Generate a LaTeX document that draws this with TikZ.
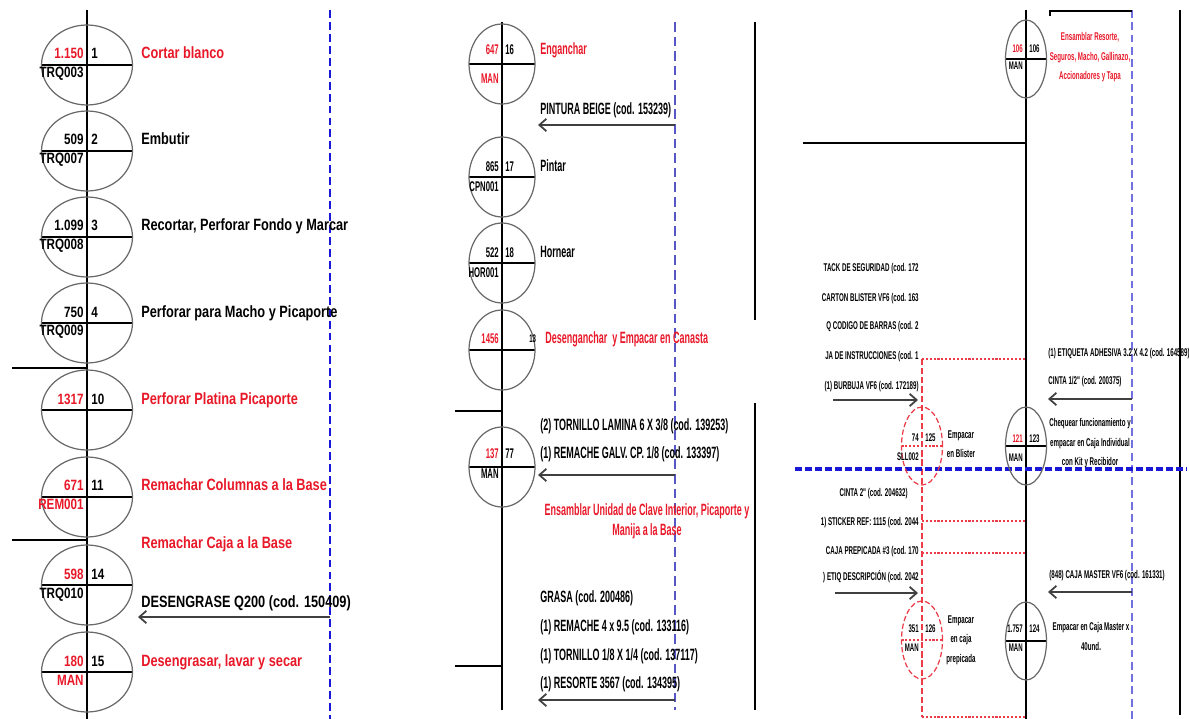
\documentclass[tikz,border=0pt]{standalone}
\usepackage{fontspec}
\usepackage{tikz}
\usetikzlibrary{shapes.geometric, arrows.meta, positioning}
\newfontfamily\narrowA[FakeStretch=0.78]{Liberation Sans}
\newfontfamily\narrowB[FakeStretch=0.55]{Liberation Sans}
\definecolor{opred}{RGB}{232,24,40}
\definecolor{lineblue}{RGB}{24,24,214}
\definecolor{linepurple}{RGB}{86,86,196}
\definecolor{linelilac}{RGB}{112,112,222}
\definecolor{ringgray}{RGB}{105,105,105}
\definecolor{dashred}{RGB}{236,60,72}

\begin{document}
\begin{tikzpicture}[
        x=0.02cm, y=-0.02cm,
        cut/.style = {draw=black, line width=1pt},
        opbig/.style = {draw=ringgray, ellipse, inner sep=0pt, outer sep=0pt, minimum width=1.82cm, minimum height=1.6cm, line width=0.7pt, path picture={\draw[cut] (path picture bounding box.west) -- (path picture bounding box.east);}},
        opmid/.style = {opbig, minimum width=1.32cm},
        opsmall/.style = {opbig, minimum width=0.82cm, minimum height=1.56cm},
        opdash/.style = {opsmall, draw=dashred, dash pattern=on 3pt off 1.5pt, path picture={\draw[dashred, line width=1pt, dash pattern=on 1.2pt off 1pt] (path picture bounding box.west) -- (path picture bounding box.east);}},
        spine/.style = {draw=black, line width=0.6pt},
        bar/.style = {draw=black, line width=0.9pt},
        feed/.style = {draw=black!75, line width=1pt, -{Straight Barb[length=4pt, width=7pt]}},
        blueA/.style = {draw=lineblue, line width=1.2pt, dash pattern=on 4.5pt off 2.3pt},
        blueB/.style = {draw=linepurple, line width=0.9pt, dash pattern=on 5.5pt off 2.8pt},
        blueC/.style = {draw=linelilac, line width=0.9pt, dash pattern=on 4.5pt off 2.5pt},
        blueH/.style = {draw=lineblue, line width=1.8pt, dash pattern=on 4pt off 1.7pt},
        reddot/.style = {draw=dashred, line width=1.1pt, dash pattern=on 1.2pt off 1pt},
        redvert/.style = {draw=dashred, line width=0.6pt, dash pattern=on 3.5pt off 1.7pt},
        labA/.style = {inner sep=0pt, font=\narrowA\bfseries\fontsize{9.3}{11}\selectfont},
        numA/.style = {inner sep=0pt, font=\narrowA\bfseries\fontsize{8.5}{10}\selectfont},
        labB/.style = {inner sep=0pt, font=\narrowB\bfseries\fontsize{9.3}{11.4}\selectfont},
        numB/.style = {inner sep=0pt, font=\narrowB\bfseries\fontsize{8}{10}\selectfont},
        labC/.style = {inner sep=0pt, font=\narrowB\bfseries\fontsize{6.4}{11.2}\selectfont},
        numC/.style = {inner sep=0pt, font=\narrowB\bfseries\fontsize{6.3}{7.5}\selectfont},
        hot/.style = {text=opred},
        lft/.style = {anchor=base east},
        rgt/.style = {anchor=base west}
    ]
        \useasboundingbox (0,0) rectangle (1189,719);

        % Column 1 lines
        \coordinate (sp1a) at (87,10);
        \coordinate (sp1b) at (87,719);
        \coordinate (bl1a) at (330,10);
        \coordinate (bl1b) at (330,719);
        \draw [spine] (sp1a) -- (sp1b);
        \draw [blueA] (bl1a) -- (bl1b);
        \coordinate (h1a) at (12,368);
        \coordinate (h1b) at (12,540);
        \draw [bar] (h1a) -- (sp1a |- h1a);
        \draw [bar] (h1b) -- (sp1a |- h1b);

        % Column 1 operations
        \node (op1)  [opbig] at (87,65)  {};
        \node (op2)  [opbig] at (87,151) {};
        \node (op3)  [opbig] at (87,237) {};
        \node (op4)  [opbig] at (87,323) {};
        \node (op10) [opbig] at (87,410) {};
        \node (op11) [opbig] at (87,497) {};
        \node (op14) [opbig] at (87,585) {};
        \node (op15) [opbig] at (87,672) {};

        \node (q1)  [numA, hot, lft] at (84,59)  {1.150};
        \node (n1)  [numA, rgt]      at (91,59)  {1};
        \node (m1)  [numA, lft]      at (84,78)  {TRQ003};
        \node (q2)  [numA, lft]      at (84,145) {509};
        \node (n2)  [numA, rgt]      at (91,145) {2};
        \node (m2)  [numA, lft]      at (84,164) {TRQ007};
        \node (q3)  [numA, lft]      at (84,231) {1.099};
        \node (n3)  [numA, rgt]      at (91,231) {3};
        \node (m3)  [numA, lft]      at (84,250) {TRQ008};
        \node (q4)  [numA, lft]      at (84,317) {750};
        \node (n4)  [numA, rgt]      at (91,317) {4};
        \node (m4)  [numA, lft]      at (84,336) {TRQ009};
        \node (q10) [numA, hot, lft] at (84,404) {1317};
        \node (n10) [numA, rgt]      at (91,404) {10};
        \node (q11) [numA, hot, lft] at (84,490) {671};
        \node (n11) [numA, rgt]      at (91,490) {11};
        \node (m11) [numA, hot, lft] at (84,509) {REM001};
        \node (q14) [numA, hot, lft] at (84,579) {598};
        \node (n14) [numA, rgt]      at (91,579) {14};
        \node (m14) [numA, lft]      at (84,598) {TRQ010};
        \node (q15) [numA, hot, lft] at (84,666) {180};
        \node (n15) [numA, rgt]      at (91,666) {15};
        \node (m15) [numA, hot, lft] at (84,685) {MAN};

        \node (t1)  [labA, hot, rgt] at (141,59)  {Cortar blanco};
        \node (t2)  [labA, rgt]      at (141,145) {Embutir};
        \node (t3)  [labA, rgt]      at (141,231) {Recortar, Perforar Fondo y Marcar};
        \node (t4)  [labA, rgt]      at (141,317) {Perforar para Macho y Picaporte};
        \node (t10) [labA, hot, rgt] at (141,404) {Perforar Platina Picaporte};
        \node (t11) [labA, hot, rgt] at (141,490) {Remachar Columnas a la Base};
        \node (t12) [labA, hot, rgt] at (141,548) {Remachar Caja a la Base};
        \node (mat1) [labA, rgt]     at (141,607) {DESENGRASE Q200 (cod. 150409)};
        \node (t15) [labA, hot, rgt] at (141,666) {Desengrasar, lavar y secar};
        \draw [feed] (bl1a |- 0,617) -- (138,617);

        % Column 2 lines
        \coordinate (sp2a) at (502,22);
        \coordinate (sp2b) at (502,710);
        \coordinate (bl2a) at (675,22);
        \coordinate (bl2b) at (675,710);
        \draw [spine] (sp2a) -- (sp2b);
        \draw [blueB] (bl2a) -- (bl2b);
        \draw [bar] (755,22) -- (755,320);
        \draw [bar] (755,403) -- (755,710);
        \coordinate (h2a) at (455,411);
        \coordinate (h2b) at (455,666);
        \draw [bar] (h2a) -- (sp2a |- h2a);
        \draw [bar] (h2b) -- (sp2a |- h2b);

        % Column 2 operations
        \node (op16) [opmid] at (502,64)  {};
        \node (op17) [opmid] at (502,177) {};
        \node (op18) [opmid] at (502,263) {};
        \node (op13) [opmid] at (502,350) {};
        \node (op77) [opmid] at (502,467) {};

        \node (q16) [numB, hot, lft] at (499,55)  {647};
        \node (n16) [numB, rgt]      at (505,55)  {16};
        \node (m16) [numB, hot, lft] at (499,84)  {MAN};
        \node (q17) [numB, lft]      at (499,172) {865};
        \node (n17) [numB, rgt]      at (505,172) {17};
        \node (m17) [numB, lft]      at (499,192) {CPN001};
        \node (q18) [numB, lft]      at (499,258) {522};
        \node (n18) [numB, rgt]      at (505,258) {18};
        \node (m18) [numB, lft]      at (499,277) {HOR001};
        \node (q13) [numB, hot, lft] at (499,343) {1456};
        \node (n13) [numC, rgt]      at (529,342) {13};
        \node (q77) [numB, hot, lft] at (499,458) {137};
        \node (n77) [numB, rgt]      at (505,458) {77};
        \node (m77) [numB, lft]      at (499,478) {MAN};

        \node (t16) [labB, hot, rgt] at (540,55)  {Enganchar};
        \node (mat2) [labB, rgt]     at (540,115) {PINTURA BEIGE (cod. 153239)};
        \node (t17) [labB, rgt]      at (540,172) {Pintar};
        \node (t18) [labB, rgt]      at (540,258) {Hornear};
        \node (t13) [labB, hot, rgt] at (545,343) {Desenganchar\ \ y Empacar en Canasta};
        \node (mat3) [labB, rgt]     at (540,430) {(2) TORNILLO LAMINA 6 X 3/8 (cod. 139253)};
        \node (mat4) [labB, rgt]     at (540,458) {(1) REMACHE GALV. CP. 1/8 (cod. 133397)};
        \node (t77) [labB, hot, align=center, anchor=north] at (647,503) {Ensamblar Unidad de Clave Interior, Picaporte y\\Manija a la Base};
        \node (mat5) [labB, rgt]     at (540,602) {GRASA (cod. 200486)};
        \node (mat6) [labB, rgt]     at (540,631) {(1) REMACHE 4 x 9.5 (cod. 133116)};
        \node (mat7) [labB, rgt]     at (540,660) {(1) TORNILLO 1/8 X 1/4 (cod. 137117)};
        \node (mat8) [labB, rgt]     at (540,688) {(1) RESORTE 3567 (cod. 134395)};
        \draw [feed] (bl2a |- 0,125) -- (538,125);
        \draw [feed] (bl2a |- 0,475) -- (538,475);
        \draw [feed] (bl2a |- 0,700) -- (538,700);

        % Column 3 lines
        \coordinate (sp3a) at (1026,10);
        \coordinate (sp3b) at (1026,719);
        \coordinate (bl3a) at (1132,10);
        \coordinate (bl3b) at (1132,719);
        \coordinate (rd) at (922,359);
        \coordinate (re) at (922,717);
        \draw [spine] (sp3a) -- (sp3b);
        \draw [blueC] (bl3a) -- (bl3b);
        \draw [bar] (1180,10) -- (1180,715);
        \draw [bar] (1050,16) |- (bl3a |- 0,11);
        \draw [bar] (803,143) -- (sp3a |- 0,143);
        \draw [redvert] (rd) -- (re);
        \draw [reddot] (rd) -- (sp3a |- rd);
        \draw [reddot] (rd |- 0,521) -- (sp3a |- 0,521);
        \draw [reddot] (rd |- 0,553) -- (sp3a |- 0,553);
        \draw [reddot] (re) -- (sp3a |- re);
        \draw [blueH] (795,469) -- (1186,469);

        % Column 3 operations
        \node (op106) [opsmall] at (1026,59)  {};
        \node (op125) [opdash]  at (922,446)  {};
        \node (op123) [opsmall] at (1026,446) {};
        \node (op126) [opdash]  at (922,640)  {};
        \node (op124) [opsmall] at (1026,641) {};

        \node (q106) [numC, hot, lft] at (1023,53)  {106};
        \node (n106) [numC, rgt]      at (1029,53)  {106};
        \node (m106) [numC, lft]      at (1023,70)  {MAN};
        \node (q125) [numC, lft]      at (919,441)  {74};
        \node (n125) [numC, rgt]      at (925,441)  {125};
        \node (m125) [numC, lft]      at (919,460)  {SLL002};
        \node (q123) [numC, hot, lft] at (1023,442) {121};
        \node (n123) [numC, rgt]      at (1029,442) {123};
        \node (m123) [numC, lft]      at (1023,461) {MAN};
        \node (q126) [numC, lft]      at (919,632)  {351};
        \node (n126) [numC, rgt]      at (925,632)  {126};
        \node (m126) [numC, lft]      at (919,651)  {MAN};
        \node (q124) [numC, lft]      at (1023,632) {1.757};
        \node (n124) [numC, rgt]      at (1029,632) {124};
        \node (m124) [numC, lft]      at (1023,651) {MAN};

        \node (t106) [labC, hot, align=center, anchor=north] at (1090,32) {Ensamblar Resorte,\\Seguros, Macho, Gallinazo,\\Accionadores y Tapa};
        \node (t125) [labC, align=center, anchor=north] at (961,430) {Empacar\\en Blister};
        \node (t123) [labC, align=center, anchor=north] at (1090,418) {Chequear funcionamiento y\\empacar en Caja Individual\\con Kit y Recibidor};
        \node (t126) [labC, align=center, anchor=north] at (961,615) {Empacar\\en caja\\prepicada};
        \node (t124) [labC, align=center, anchor=north] at (1091,622) {Empacar en Caja Master x\\40und.};

        \node (mat9)  [labC, lft] at (919,272) {TACK DE SEGURIDAD (cod. 172};
        \node (mat10) [labC, lft] at (919,301) {CARTON BLISTER VF6 (cod. 163};
        \node (mat11) [labC, lft] at (919,330) {Q CODIGO DE BARRAS (cod. 2};
        \node (mat12) [labC, lft] at (919,359) {JA DE INSTRUCCIONES (cod. 1};
        \node (mat13) [labC, lft] at (919,389) {(1) BURBUJA VF6 (cod. 172189)};
        \node (mat14) [labC, rgt] at (1048,357) {(1) ETIQUETA ADHESIVA 3.2 X 4.2 (cod. 164589)};
        \node (mat15) [labC, rgt] at (1048,384) {CINTA 1/2" (cod. 200375)};
        \node (mat16) [labC, lft] at (908,496) {CINTA 2" (cod. 204632)};
        \node (mat17) [labC, lft] at (919,525) {1) STICKER REF: 1115 (cod. 2044};
        \node (mat18) [labC, lft] at (919,554) {CAJA PREPICADA \#3 (cod. 170};
        \node (mat19) [labC, lft] at (919,580) {) ETIQ DESCRIPCIÓN (cod. 2042};
        \node (mat20) [labC, rgt] at (1049,578) {(848) CAJA MASTER VF6 (cod. 161331)};
        \draw [feed] (833,400) -- (918,400);
        \draw [feed] (bl3a |- 0,399) -- (1048,399);
        \draw [feed] (835,593) -- (918,593);
        \draw [feed] (bl3a |- 0,592) -- (1048,592);

    \end{tikzpicture}
\end{document}
